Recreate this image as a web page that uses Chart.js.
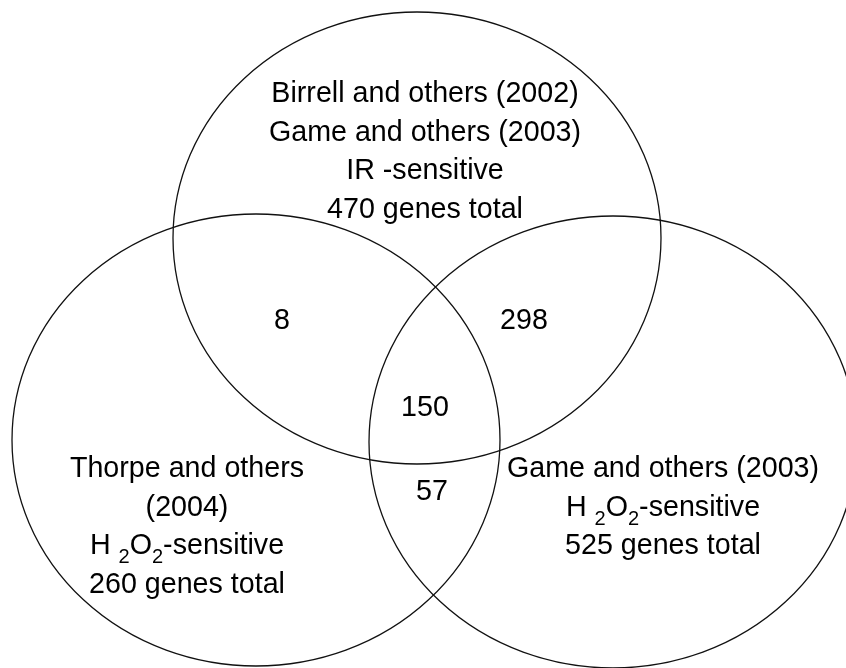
<!DOCTYPE html>
<html><head><meta charset="utf-8">
<script src="https://cdn.jsdelivr.net/npm/chart.js@4"></script>
<style>html,body{margin:0;padding:0;background:#fff;overflow:hidden}#wrap{width:846px;height:668px}</style>
</head><body><div id="wrap"><canvas id="c" width="846" height="668"></canvas></div>
<script>
// ---- data ----
const setNames = ["IR-sensitive (Birrell 2002, Game 2003)", "H2O2-sensitive (Thorpe 2004)", "H2O2-sensitive (Game 2003)"];
const setTotals = [470, 260, 525];
const setLabelLines = [
  ["Birrell and others (2002)", "Game and others (2003)", "IR -sensitive", "470 genes total"],
  ["Thorpe and others", "(2004)", "H _2O_2-sensitive", "260 genes total"],
  ["Game and others (2003)", "H _2O_2-sensitive", "525 genes total"]
];
// circle centres and radii in the (hidden) axis units
const setCenterX = [417, 256, 613];
const setCenterY = [238, 440, 442];
const setRadiusX = [244, 244, 244];
const setRadiusY = [226, 226, 226];
// set-label anchors (centre x, first baseline y) in axis units
const setLabelX = [425, 187, 663];
const setLabelY = [102, 477, 477];
// overlap region counts
const regionNames = ["IR & Thorpe only", "IR & Game H2O2 only", "all three", "Thorpe & Game H2O2 only"];
const regionCounts = [8, 298, 150, 57];
const regionX = [282, 524, 425, 432];
const regionY = [329, 329, 416, 500];

const FONT = '"Liberation Sans", Arial, Helvetica, sans-serif';
const SIZE = 30;
const SX = 0.955;
const LINE = 38.5;

function drawRich(ctx, text, cx, by) {
  const parts = [];
  for (let i = 0; i < text.length; i++) {
    if (text[i] === '_' && i + 1 < text.length) { parts.push({t: text[i+1], sub: true}); i++; }
    else {
      if (parts.length && !parts[parts.length-1].sub) parts[parts.length-1].t += text[i];
      else parts.push({t: text[i], sub: false});
    }
  }
  const fN = SIZE + 'px ' + FONT, fS = Math.round(SIZE*0.7) + 'px ' + FONT;
  let w = 0;
  parts.forEach(p => { ctx.font = p.sub ? fS : fN; p.w = ctx.measureText(p.t).width; w += p.w; });
  ctx.save();
  ctx.translate(cx, by);
  ctx.scale(SX, 1);
  let x = -w/2;
  ctx.textAlign = 'left';
  parts.forEach(p => {
    ctx.font = p.sub ? fS : fN;
    ctx.fillText(p.t, x, p.sub ? 9 : 0);
    x += p.w;
  });
  ctx.restore();
}

const vennPlugin = {
  id: 'venn',
  afterDatasetsDraw(chart) {
    const {ctx, scales: {x, y}} = chart;
    ctx.save();
    ctx.strokeStyle = '#111';
    ctx.lineWidth = 1.3;
    for (let i = 0; i < setCenterX.length; i++) {
      const cx = x.getPixelForValue(setCenterX[i]);
      const cy = y.getPixelForValue(setCenterY[i]);
      const rx = Math.abs(x.getPixelForValue(setCenterX[i] + setRadiusX[i]) - cx);
      const ry = Math.abs(y.getPixelForValue(setCenterY[i] + setRadiusY[i]) - cy);
      ctx.beginPath();
      ctx.ellipse(cx, cy, rx, ry, 0, 0, Math.PI*2);
      ctx.stroke();
    }
    ctx.fillStyle = '#000';
    ctx.textBaseline = 'alphabetic';
    for (let i = 0; i < setLabelLines.length; i++) {
      const cx = x.getPixelForValue(setLabelX[i]);
      setLabelLines[i].forEach((ln, k) => {
        drawRich(ctx, ln, cx, y.getPixelForValue(setLabelY[i] + k*LINE));
      });
    }
    const meta = chart.getDatasetMeta(0);
    meta.data.forEach((pt, i) => {
      drawRich(ctx, String(regionCounts[i]), pt.x, pt.y);
    });
    ctx.restore();
  }
};

new Chart(document.getElementById('c'), {
  type: 'scatter',
  data: { datasets: [{ label: 'overlaps', data: regionX.map((v, i) => ({x: v, y: regionY[i]})), pointRadius: 0 }] },
  options: {
    responsive: false, animation: false, events: [],
    layout: { padding: 0 },
    plugins: { legend: { display: false }, tooltip: { enabled: false } },
    scales: {
      x: { type: 'linear', min: 0, max: 846, display: false },
      y: { type: 'linear', min: 0, max: 668, reverse: true, display: false }
    }
  },
  plugins: [vennPlugin]
});
</script></body></html>
